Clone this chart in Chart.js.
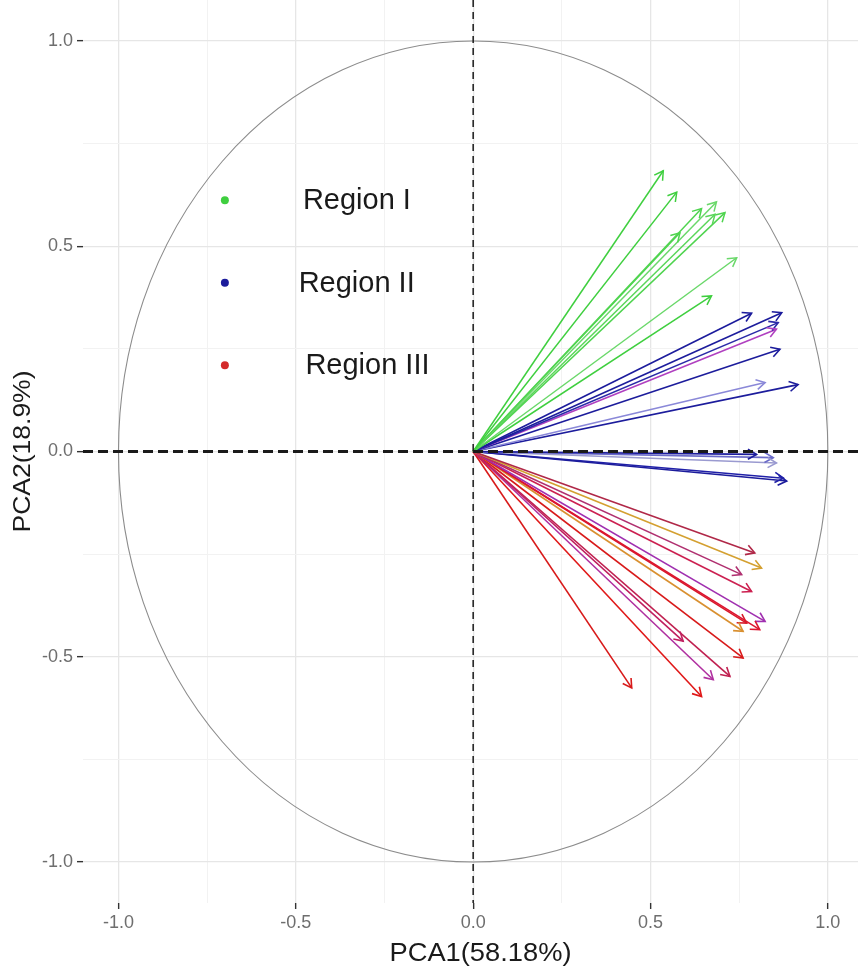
<!DOCTYPE html>
<html>
<head>
<meta charset="utf-8">
<script src="https://cdn.jsdelivr.net/npm/chart.js@4/dist/chart.umd.min.js"></script>
<style>
  html, body { margin: 0; padding: 0; background: #fff; }
  #wrap { width: 858px; height: 969px; }
</style>
</head>
<body>
<div id="wrap"><canvas id="pcaChart"></canvas></div>
<script>
// loadings
const region1X = [0.536, 0.574, 0.644, 0.686, 0.710, 0.682, 0.583, 0.743, 0.672];
const region1Y = [0.684, 0.632, 0.592, 0.608, 0.582, 0.578, 0.533, 0.472, 0.379];

const region2X = [0.785, 0.870, 0.860, 0.855, 0.865, 0.823, 0.916, 0.799, 0.846, 0.855, 0.884, 0.875];
const region2Y = [0.337, 0.338, 0.314, 0.298, 0.249, 0.168, 0.163, -0.007, -0.015, -0.028, -0.072, -0.065];

const region3X = [0.794, 0.813, 0.757, 0.785, 0.823, 0.808, 0.771, 0.761, 0.592, 0.761, 0.724, 0.677, 0.644, 0.447];
const region3Y = [-0.247, -0.284, -0.300, -0.341, -0.414, -0.434, -0.418, -0.438, -0.462, -0.503, -0.548, -0.556, -0.597, -0.576];

const regionLabels = ["Region I", "Region II", "Region III"];
const xTitle = "PCA1(58.18%)";
const yTitle = "PCA2(18.9%)";
const majorTicks = [-1.0, -0.5, 0.0, 0.5, 1.0];
const minorTicks = [-0.75, -0.25, 0.25, 0.75];

const region1Colors = ["#3fcf3f", "#3fcf3f", "#4fd44f", "#6ad86a", "#4fd44f", "#5ad65a", "#4fd44f", "#6ad86a", "#3fcf3f"];
const region2Colors = ["#1c1c9c", "#1c1c9c", "#2a2aa8", "#b040c0", "#1c1c9c", "#8a88d8", "#1c1c9c", "#1c1c9c", "#6a6ac8", "#9a9ad0", "#1c1c9c", "#2020a8"];
const region3Colors = ["#b02848", "#d4a030", "#b03070", "#cc2050", "#a030b0", "#dd1530", "#d81a2a", "#d99030", "#c02060", "#d81a1a", "#c02050", "#b030a0", "#e01818", "#d81a1a"];
const dotColors = ["#3fcf3f", "#1c1c9c", "#d42a2a"];

const arrowDatasets = [];
function addArrows(xs, ys, colors, width) {
  xs.forEach((x, i) => {
    arrowDatasets.push({
      data: [{ x: 0, y: 0 }, { x: x, y: ys[i] }],
      borderColor: colors[i],
      borderWidth: width,
      pointRadius: 0,
      showLine: true,
      fill: false,
    });
  });
}
addArrows(region1X, region1Y, region1Colors, 1.5);
addArrows(region2X, region2Y, region2Colors, 1.6);
addArrows(region3X, region3Y, region3Colors, 1.6);

const isMajor = (v) => majorTicks.some((m) => Math.abs(m - v) < 1e-6);

// text stretched to a target width (the original fonts are a bit wide)
function wideText(ctx, text, cx, cy, size, targetWidth, angle) {
  ctx.save();
  ctx.font = size + "px 'Liberation Sans', Arial, sans-serif";
  const w = ctx.measureText(text).width;
  ctx.translate(cx, cy);
  ctx.rotate(angle);
  ctx.scale(targetWidth / w, 1);
  ctx.textAlign = "center";
  ctx.textBaseline = "middle";
  ctx.fillStyle = "#1a1a1a";
  ctx.fillText(text, 0, 0);
  ctx.restore();
}

const biplotPlugin = {
  id: "biplot",
  beforeDatasetsDraw(chart) {
    const { ctx, scales: { x, y } } = chart;
    const cx = x.getPixelForValue(0);
    const cy = y.getPixelForValue(0);
    const rx = x.getPixelForValue(1) - cx;
    const ry = cy - y.getPixelForValue(1);
    ctx.save();
    ctx.beginPath();
    ctx.ellipse(cx, cy, rx, ry, 0, 0, Math.PI * 2);
    ctx.strokeStyle = "#8c8c8c";
    ctx.lineWidth = 1.1;
    ctx.stroke();
    ctx.restore();
  },
  afterDatasetsDraw(chart) {
    const { ctx, scales: { x, y }, chartArea } = chart;
    ctx.save();
    // arrow heads
    chart.data.datasets.forEach((ds, i) => {
      const pts = chart.getDatasetMeta(i).data;
      if (pts.length < 2) return;
      const a = pts[0], b = pts[1];
      const ang = Math.atan2(b.y - a.y, b.x - a.x);
      const len = 10, spread = Math.PI / 6;
      ctx.beginPath();
      ctx.moveTo(b.x - len * Math.cos(ang - spread), b.y - len * Math.sin(ang - spread));
      ctx.lineTo(b.x, b.y);
      ctx.lineTo(b.x - len * Math.cos(ang + spread), b.y - len * Math.sin(ang + spread));
      ctx.strokeStyle = ds.borderColor;
      ctx.lineWidth = ds.borderWidth;
      ctx.stroke();
    });

    // dashed zero lines
    const x0 = x.getPixelForValue(0);
    const y0 = y.getPixelForValue(0);
    ctx.strokeStyle = "#1a1a1a";
    ctx.setLineDash([10, 5]);
    ctx.lineWidth = 2.8;
    ctx.beginPath();
    ctx.moveTo(chartArea.left, y0);
    ctx.lineTo(chartArea.right, y0);
    ctx.stroke();
    ctx.setLineDash([7, 5]);
    ctx.lineWidth = 1.5;
    ctx.beginPath();
    ctx.moveTo(x0, chartArea.top);
    ctx.lineTo(x0, chartArea.bottom);
    ctx.stroke();
    ctx.setLineDash([]);

    // region key drawn inside the panel
    const dotX = [-0.70, -0.70, -0.70];
    const keyY = [0.612, 0.411, 0.21];
    const textX = [-0.480, -0.492, -0.473];
    ctx.font = "29px 'Liberation Sans', Arial, sans-serif";
    ctx.textBaseline = "middle";
    ctx.textAlign = "left";
    regionLabels.forEach((lab, i) => {
      const py = y.getPixelForValue(keyY[i]);
      ctx.beginPath();
      ctx.arc(x.getPixelForValue(dotX[i]), py, 4, 0, Math.PI * 2);
      ctx.fillStyle = dotColors[i];
      ctx.fill();
      ctx.fillStyle = "#1a1a1a";
      ctx.fillText(lab, x.getPixelForValue(textX[i]), py + 1);
    });
    ctx.restore();
  },
  afterDraw(chart) {
    const { ctx, chartArea } = chart;
    // axis titles
    wideText(ctx, xTitle, (chartArea.left + chartArea.right) / 2 + 10, chartArea.bottom + 51, 25, 182, 0);
    wideText(ctx, yTitle, 23, (chartArea.top + chartArea.bottom) / 2, 24, 162, -Math.PI / 2);
  },
};

const tickValues = majorTicks.concat(minorTicks).sort((a, b) => a - b);

function axisOptions(min, max, tickPadding) {
  return {
    type: "linear",
    min: min,
    max: max,
    afterBuildTicks: (scale) => {
      scale.ticks = tickValues.map((v) => ({ value: v }));
    },
    border: { display: false },
    grid: {
      color: (c) => (c.tick && isMajor(c.tick.value) ? "#e6e6e6" : "#f2f2f2"),
      lineWidth: (c) => (c.tick && isMajor(c.tick.value) ? 1.3 : 1),
      tickColor: (c) => (c.tick && isMajor(c.tick.value) ? "#333" : "rgba(0,0,0,0)"),
      tickLength: 6,
      tickWidth: 1.4,
    },
    ticks: {
      autoSkip: false,
      maxRotation: 0,
      padding: tickPadding,
      color: "#6e6e6e",
      font: { family: "'Liberation Sans', Arial, sans-serif", size: 18 },
      callback: (v) => (isMajor(v) ? Number(v).toFixed(1) : ""),
    },
    title: { display: false },
  };
}

const xAxis = axisOptions(-1.1, 1.085, 3);
xAxis.afterFit = (scale) => {
  scale.height = 66;
  scale.paddingLeft = 0;
  scale.paddingRight = 0;
};
const yAxis = axisOptions(-1.1, 1.1, 4);
yAxis.afterFit = (scale) => {
  scale.width = 83;
  scale.paddingTop = 0;
  scale.paddingBottom = 0;
};

new Chart(document.getElementById("pcaChart"), {
  type: "scatter",
  data: { datasets: arrowDatasets },
  options: {
    responsive: true,
    maintainAspectRatio: false,
    animation: false,
    layout: { padding: 0 },
    plugins: {
      legend: { display: false },
      tooltip: { enabled: false },
    },
    scales: { x: xAxis, y: yAxis },
  },
  plugins: [biplotPlugin],
});
</script>
</body>
</html>
